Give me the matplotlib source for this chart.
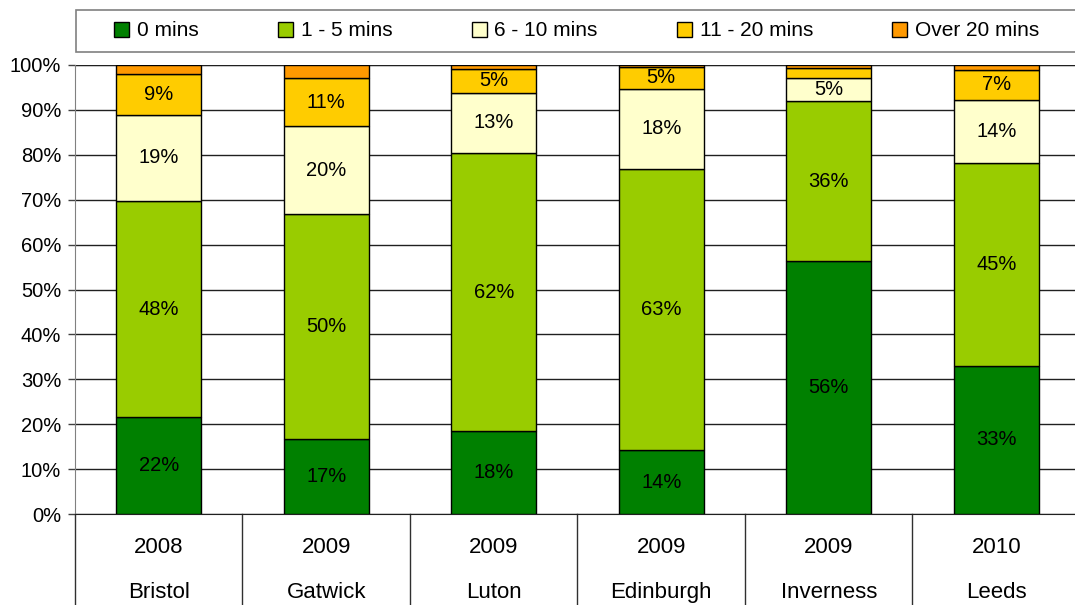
import matplotlib.pyplot as plt
from matplotlib.patches import Patch, Rectangle
from matplotlib.lines import Line2D
from matplotlib.transforms import blended_transform_factory

plt.rcParams['font.family'] = ['Liberation Sans', 'DejaVu Sans']

years = ['2008', '2009', '2009', '2009', '2009', '2010']
airports = ['Bristol', 'Gatwick', 'Luton', 'Edinburgh', 'Inverness', 'Leeds']

series_names = ['0 mins', '1 - 5 mins', '6 - 10 mins', '11 - 20 mins', 'Over 20 mins']
wait_0 = [21.6, 16.6, 18.4, 14.2, 56.4, 33.0]
wait_1_5 = [48.1, 50.2, 62.0, 62.6, 35.5, 45.2]
wait_6_10 = [19.2, 19.6, 13.4, 17.9, 5.2, 14.0]
wait_11_20 = [9.1, 10.6, 5.3, 4.9, 2.2, 6.7]
wait_over_20 = [2.0, 3.0, 0.9, 0.4, 0.7, 1.1]
colors = ['#008000', '#99CC00', '#FFFFCC', '#FFCC00', '#FF9900']

series = [wait_0, wait_1_5, wait_6_10, wait_11_20, wait_over_20]

fig = plt.figure(figsize=(10.75, 6.05), dpi=100)
ax = fig.add_axes([75 / 1075, 1 - 514 / 605, 1005 / 1075, 449 / 605])

x = list(range(len(airports)))
bottom = [0.0] * len(airports)
for vals, col in zip(series, colors):
    ax.bar(x, vals, width=0.51, bottom=bottom, color=col, edgecolor='black',
           linewidth=1.0, zorder=3)
    for i, v in enumerate(vals):
        if v >= 4.5:
            ax.text(i, bottom[i] + v / 2, f'{v:.0f}%', ha='center', va='center',
                    fontsize=14.5, zorder=4)
    bottom = [b + v for b, v in zip(bottom, vals)]

ax.set_xlim(-0.5, len(airports) - 0.5)
ax.set_ylim(0, 100)
ax.set_yticks(range(0, 101, 10))
ax.set_yticklabels([f'{t}%' for t in range(0, 101, 10)], fontsize=14.5)
ax.tick_params(axis='y', length=5, width=1, color='#404040', pad=5)
ax.set_xticks([])
ax.yaxis.grid(True, color='#202020', linewidth=1, zorder=0)
for side in ['top', 'right']:
    ax.spines[side].set_visible(False)
ax.spines['left'].set_color('#808080')
ax.spines['bottom'].set_color('#202020')
ax.axhline(100, color='#b0b0b0', linewidth=1, zorder=1)

# two-row category axis with separators
trans = blended_transform_factory(ax.transData, ax.transAxes)
for i in range(len(airports)):
    ax.text(i, -0.0735, years[i], ha='center', va='center', fontsize=16, transform=trans)
    ax.text(i, -0.174, airports[i], ha='center', va='center', fontsize=16, transform=trans)
for k in range(len(airports)):
    ax.add_line(Line2D([k - 0.5, k - 0.5], [0, -0.3], transform=trans,
                       color='#303030', linewidth=1, clip_on=False))

# legend box across the top
fig.patches.append(Rectangle((76 / 1075, 1 - 52 / 605), 1010 / 1075, 42 / 605,
                             transform=fig.transFigure, facecolor='white',
                             edgecolor='#808080', linewidth=1.2))
handles = [Patch(facecolor=c, edgecolor='black', linewidth=1) for c in colors]
fig.legend(handles, series_names, ncol=5, loc='center left',
           bbox_to_anchor=(114 / 1075, 1 - 31 / 605), fontsize=15,
           frameon=False, handlelength=0.72, handleheight=0.72,
           handletextpad=0.38, columnspacing=3.8, borderpad=0,
           borderaxespad=0)

fig.savefig('out.png', dpi=100)
